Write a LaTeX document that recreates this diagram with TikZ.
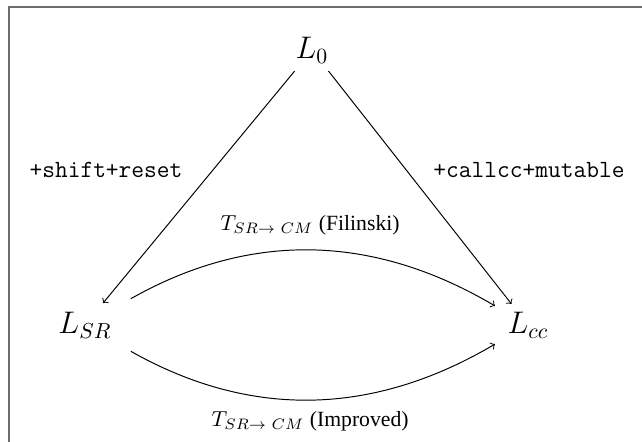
\documentclass[tikz,border=0pt]{standalone}
\usepackage[no-math]{fontspec}
\setmainfont{Liberation Serif}
\begin{document}
\begin{tikzpicture}[x=0.461pt,y=-0.461pt,
  lang/.style={font=\Large, inner sep=3.5pt},
  edgelbl/.style={font=\fontsize{11.4pt}{13pt}\selectfont\ttfamily},
  arr/.style={->, line width=0.45pt}]
\useasboundingbox (0,0) rectangle (642,442);
\draw[gray!85!black, line width=0.9pt] (9,442) -- (9,7) -- (642,7);
\node[lang] (l0) at (312,50) {$L_0$};
\node[lang] (sr) at (85,325) {$L_{SR}$};
\node[lang] (cc) at (528,325) {$L_{cc}$};
\node[edgelbl] (ls) at (106,170) {+shift+reset};
\node[edgelbl] (lc) at (529,170) {+callcc+mutable};
\draw[arr, shorten >=0.5pt] (l0) -- (sr);
\draw[arr] (l0) -- (cc);
\draw[arr, shorten <=6pt, shorten >=2.5pt] (sr) to[bend left=30] node[above=4pt] (tf) {$T_{SR\rightarrow\ CM}$ (Filinski)} (cc);
\draw[arr, shorten <=6pt, shorten >=2.5pt] (sr) to[bend right=30] node[below=2pt] (ti) {$T_{SR\rightarrow\ CM}$ (Improved)} (cc);
\end{tikzpicture}
\end{document}
